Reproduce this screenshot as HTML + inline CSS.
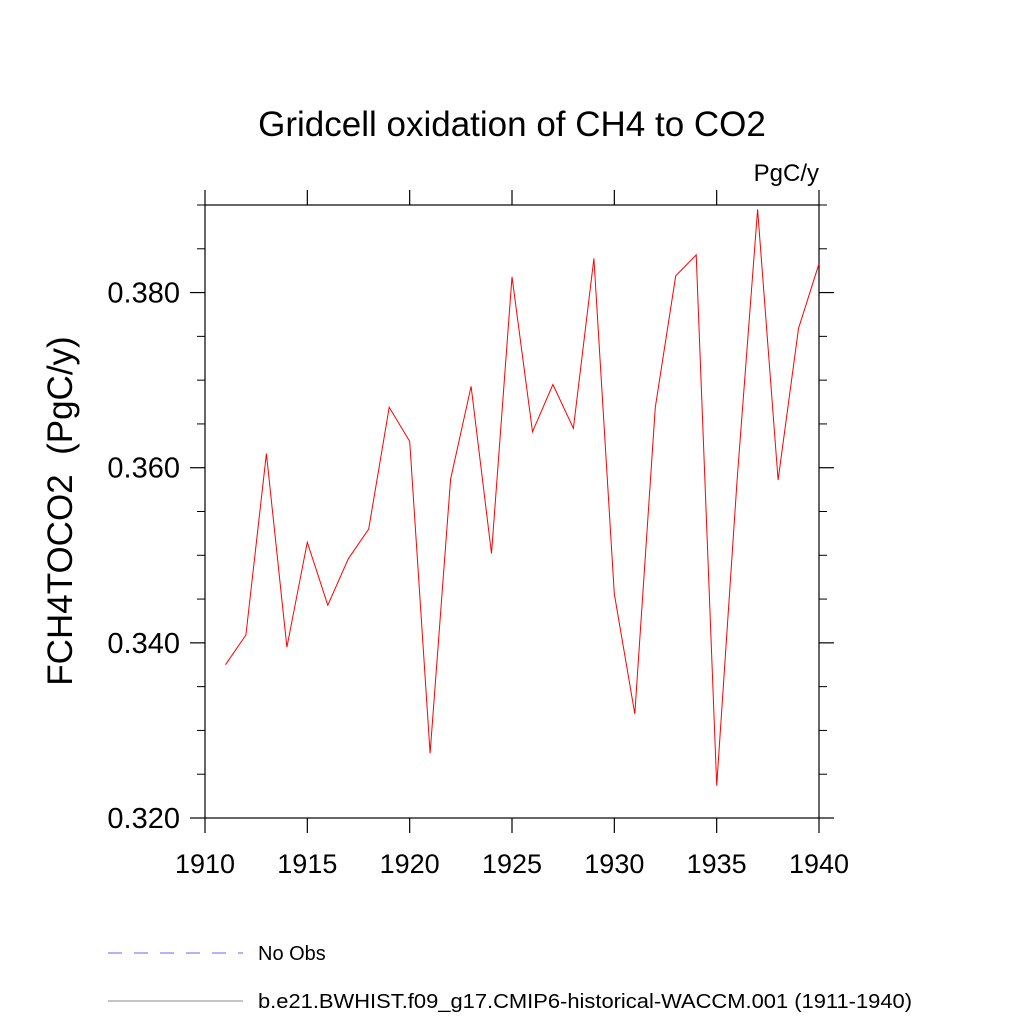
<!DOCTYPE html>
<html><head><meta charset="utf-8"><style>body{margin:0;background:#fff}svg{display:block}</style></head>
<body>
<svg id="chart" width="1024" height="1024" viewBox="0 0 1024 1024" xmlns="http://www.w3.org/2000/svg" font-family="Liberation Sans, sans-serif">
<rect width="1024" height="1024" fill="#fff"/>
<text x="512" y="136" font-size="35" text-anchor="middle">Gridcell oxidation of CH4 to CO2</text>
<text x="819" y="181" font-size="24" text-anchor="end">PgC/y</text>
<text transform="translate(72,511) rotate(-90)" font-size="35" text-anchor="middle" style="white-space:pre">FCH4TOCO2  (PgC/y)</text>
<g id="axes"></g>
<g id="series"></g>
<g>
<line x1="108" y1="953" x2="243" y2="953" stroke="#6666ff" stroke-width="1" stroke-dasharray="14,12"/>
<text x="258" y="960" font-size="20">No Obs</text>
<line x1="108" y1="1001" x2="243" y2="1001" stroke="#888" stroke-width="1"/>
<text x="258" y="1008" font-size="20" textLength="654" lengthAdjust="spacingAndGlyphs">b.e21.BWHIST.f09_g17.CMIP6-historical-WACCM.001 (1911-1940)</text>
</g>
</svg>
<script>
const years=[1911,1912,1913,1914,1915,1916,1917,1918,1919,1920,1921,1922,1923,1924,1925,1926,1927,1928,1929,1930,1931,1932,1933,1934,1935,1936,1937,1938,1939,1940];
const values=[0.3375,0.3409,0.3616,0.3395,0.3515,0.3443,0.3496,0.3530,0.3669,0.3630,0.3274,0.3587,0.3693,0.3502,0.3818,0.3641,0.3695,0.3645,0.3839,0.3456,0.3319,0.3669,0.3819,0.3843,0.3237,0.3586,0.3895,0.3586,0.3759,0.3833];
const xTicks=[1910,1915,1920,1925,1930,1935,1940];
const yTicks=[0.320,0.340,0.360,0.380];
const yTickLabels=["0.320","0.340","0.360","0.380"];
const yMinor=[0.325,0.330,0.335,0.345,0.350,0.355,0.365,0.370,0.375,0.385,0.390];
const L=205,R=819,T=205,B=818,x0=1910,x1=1940,y0=0.320,y1=0.390;
const X=v=>L+(v-x0)/(x1-x0)*(R-L);
const Y=v=>B-(v-y0)/(y1-y0)*(B-T);
const NS="http://www.w3.org/2000/svg";
function mk(tag,attrs,parent){const e=document.createElementNS(NS,tag);for(const k in attrs)e.setAttribute(k,attrs[k]);parent.appendChild(e);return e;}
const ax=document.getElementById('axes');
const fr=mk('rect',{x:L,y:T,width:R-L,height:B-T,fill:'none',stroke:'#000','stroke-width':1.2},ax);


xTicks.forEach(t=>{
 const x=X(t);
 const a=mk('line',{x1:x,y1:B,x2:x,y2:B+15,stroke:'#000','stroke-width':1.2},ax);
 
 
 const b=mk('line',{x1:x,y1:T,x2:x,y2:T-15,stroke:'#000','stroke-width':1.2},ax);
 
 
 const tx=mk('text',{x:x,y:B+55,'font-size':27,'text-anchor':'middle'},ax);
 tx.textContent=t;
 
 
});
yTicks.forEach((t,i)=>{
 const y=Y(t);
 const a=mk('line',{x1:L-15,y1:y,x2:L,y2:y,stroke:'#000','stroke-width':1.2},ax);
 
 
 const b=mk('line',{x1:R,y1:y,x2:R+15,y2:y,stroke:'#000','stroke-width':1.2},ax);
 
 
 const tx=mk('text',{x:L-25,y:y+10,'font-size':29,'text-anchor':'end'},ax);
 tx.textContent=yTickLabels[i];
 
 
});
yMinor.forEach(t=>{
 const y=Y(t);
 const a=mk('line',{x1:L-8,y1:y,x2:L,y2:y,stroke:'#000','stroke-width':1},ax);
 
 
 const b=mk('line',{x1:R,y1:y,x2:R+8,y2:y,stroke:'#000','stroke-width':1},ax);
 
 
});
const pts=years.map((yr,i)=>X(yr).toFixed(1)+','+Y(values[i]).toFixed(1)).join(' ');
const pl=mk('polyline',{points:pts,fill:'none',stroke:'#ff0000','stroke-width':1},document.getElementById('series'));


</script>
</body></html>
